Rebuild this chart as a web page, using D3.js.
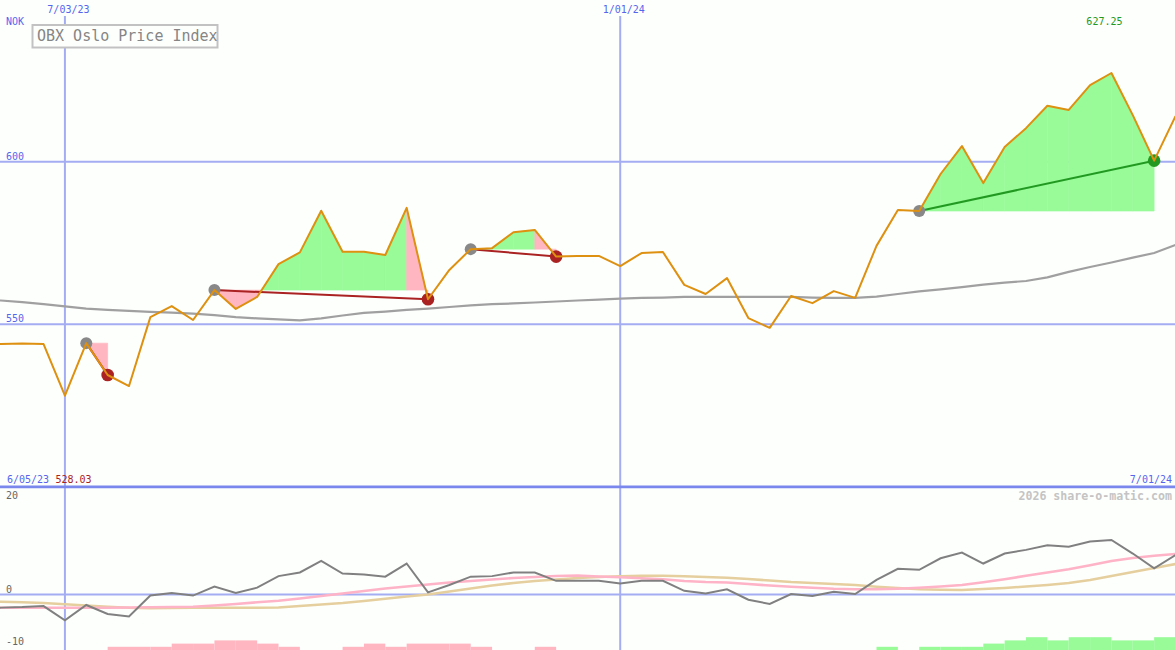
<!DOCTYPE html>
<html>
<head>
<meta charset="utf-8">
<script src="https://cdn.jsdelivr.net/npm/d3@7"></script>
<style>
  html, body { margin: 0; padding: 0; background: #fdfffd; }
  svg { display: block; }
  text { font-family: "DejaVu Sans Mono", "Liberation Mono", monospace; }
</style>
</head>
<body>
<svg id="chart" width="1175" height="650"></svg>
<script>
// ---------------- DATA ----------------
const dates = [
  "2023-06-05","2023-06-12","2023-06-19","2023-06-26","2023-07-03","2023-07-10","2023-07-17","2023-07-24",
  "2023-07-31","2023-08-07","2023-08-14","2023-08-21","2023-08-28","2023-09-04","2023-09-11","2023-09-18",
  "2023-09-25","2023-10-02","2023-10-09","2023-10-16","2023-10-23","2023-10-30","2023-11-06","2023-11-13",
  "2023-11-20","2023-11-27","2023-12-04","2023-12-11","2023-12-18","2023-12-25","2024-01-01","2024-01-08",
  "2024-01-15","2024-01-22","2024-01-29","2024-02-05","2024-02-12","2024-02-19","2024-02-26","2024-03-04",
  "2024-03-11","2024-03-18","2024-03-25","2024-04-01","2024-04-08","2024-04-15","2024-04-22","2024-04-29",
  "2024-05-06","2024-05-13","2024-05-20","2024-05-27","2024-06-03","2024-06-10","2024-06-17","2024-06-24",
  "2024-07-01"
];
const price = [
  543.9, 543.9, 544.1, 543.9, 528.03, 544.2, 534.4, 531.0,
  552.2, 555.6, 551.3, 560.5, 554.7, 558.4, 568.5, 572.1,
  584.9, 572.3, 572.3, 571.3, 585.8, 557.7, 566.7, 573.1,
  573.4, 578.3, 579.0, 570.8, 571.0, 571.0, 567.9, 571.9,
  572.2, 562.1, 559.3, 564.2, 551.9, 548.9, 558.7, 556.5,
  560.2, 558.1, 574.1, 585.1, 584.8, 596.2, 604.8, 593.4,
  604.5, 610.3, 617.2, 615.9, 623.5, 627.25, 614.3, 600.3,
  614.0
];
const movingAvg = [
  557.6, 557.3, 556.8, 556.2, 555.5, 554.8, 554.4, 554.1,
  553.8, 553.6, 553.3, 552.8, 552.2, 551.8, 551.5, 551.2,
  551.8, 552.7, 553.5, 553.9, 554.4, 554.8, 555.3, 555.8,
  556.2, 556.4, 556.7, 557.0, 557.3, 557.6, 557.9, 558.1,
  558.2, 558.4, 558.4, 558.4, 558.4, 558.4, 558.4, 558.2,
  558.1, 558.1, 558.5, 559.3, 560.1, 560.7, 561.4, 562.2,
  562.8, 563.3, 564.4, 566.1, 567.6, 569.0, 570.5, 571.9,
  574.4
];
const oscMain = [
  -2.6, -2.5, -2.4, -2.2, -4.9, -2.0, -3.7, -4.2,
  -0.2, 0.3, -0.2, 1.5, 0.3, 1.3, 3.5, 4.2,
  6.4, 4.0, 3.8, 3.4, 5.9, 0.4, 1.8, 3.4,
  3.5, 4.2, 4.2, 2.6, 2.6, 2.6, 2.1, 2.6,
  2.6, 0.7, 0.2, 1.0, -1.0, -1.8, 0.1, -0.3,
  0.5, 0.1, 2.8, 4.9, 4.7, 6.9, 8.0, 5.9,
  7.8, 8.5, 9.4, 9.1, 10.1, 10.4, 7.8, 5.0,
  7.5
];
const oscPink = [
  -2.51, -2.51, -2.51, -2.51, -2.51, -2.51, -2.51, -2.48,
  -2.44, -2.38, -2.32, -2.10, -1.81, -1.49, -1.18, -0.76,
  -0.29, 0.19, 0.67, 1.14, 1.52, 1.90, 2.29, 2.57,
  2.86, 3.14, 3.33, 3.52, 3.62, 3.43, 3.28, 3.09,
  2.91, 2.57, 2.38, 2.29, 2.00, 1.70, 1.47, 1.28,
  1.09, 0.99, 1.01, 1.10, 1.28, 1.52, 1.81, 2.32,
  2.90, 3.56, 4.19, 4.82, 5.56, 6.38, 6.95, 7.39,
  7.71
];
const oscTan = [
  -1.33, -1.37, -1.49, -1.62, -1.87, -2.10, -2.32, -2.53,
  -2.63, -2.57, -2.51, -2.51, -2.51, -2.51, -2.48, -2.19,
  -1.90, -1.62, -1.24, -0.82, -0.38, 0.00, 0.57, 1.14,
  1.71, 2.19, 2.57, 2.86, 3.14, 3.33, 3.49, 3.56,
  3.58, 3.49, 3.33, 3.18, 2.95, 2.67, 2.38, 2.19,
  2.00, 1.81, 1.49, 1.24, 0.99, 0.90, 0.86, 1.05,
  1.24, 1.52, 1.81, 2.19, 2.76, 3.52, 4.29, 5.05,
  5.81
];
// signed position strength bars (negative = pink, positive = green)
const positionBars = [
  0, 0, 0, 0, 0, 0, -1, -1,
  -1, -2, -2, -3, -3, -2, -1, 0,
  0, -1, -2, -1, -2, -2, -2, -1,
  0, 0, -1, 0, 0, 0, 0, 0,
  0, 0, 0, 0, 0, 0, 0, 0,
  0, 0, 1, 0, 1, 1, 1, 2,
  3, 4, 3, 4, 4, 3, 3, 4,
  0
];
const tradeEntries = ["2023-07-10", "2023-08-21", "2023-11-13", "2024-04-08"];
const tradeExits   = ["2023-07-17", "2023-10-30", "2023-12-11", "2024-06-24"];
const priceTicks = [600, 550];
const oscTicks = [20, 0, -10];
const dateTicks = ["2023-07-03", "2024-01-01"];
const dateTickLabels = ["7/03/23", "1/01/24"];
const firstLabel = "6/05/23";
const lastLabel = "7/01/24";
const title = "OBX Oslo Price Index";
const currency = "NOK";
const credit = "2026 share-o-matic.com";

// ---------------- CHART ----------------
(function () {
const W = 1175, H = 650;
const parse = d3.utcParse("%Y-%m-%d");
const D = dates.map(parse);
const svg = d3.select("#chart");

const x = d3.scaleUtc().domain([D[0], D[D.length - 1]]).range([-20.5, 1175.5]);
const y = d3.scaleLinear().domain([500, 650]).range([486.9, -1]);
const y2 = d3.scaleLinear().domain([-10, 20]).range([647, 489.5]);
const yb = d3.scaleLinear().domain([0, 4]).range([650, 637.2]);

const C = {
  bg: "#fdfffd", grid: "#a4adf2", sep: "#7a88ee", tick: "#5566ee",
  price: "#de9010", ma: "#a0a0a0", green: "#98fb98", pink: "#ffb6c1",
  loss: "#aa2222", win: "#229a22", entry: "#888888",
  osc: "#808080", oscPink: "#ffb3c6", oscTan: "#e6cf9e"
};

svg.append("rect").attr("width", W).attr("height", H).attr("fill", C.bg);

const defs = svg.append("defs");
defs.append("clipPath").attr("id", "clipTop").append("rect")
  .attr("x", 0).attr("y", 0).attr("width", W).attr("height", 486);
defs.append("clipPath").attr("id", "clipBot").append("rect")
  .attr("x", 0).attr("y", 488.5).attr("width", W).attr("height", H - 488.5);

// horizontal grid (price)
svg.append("g").selectAll("line").data(priceTicks).join("line")
  .attr("x1", 0).attr("x2", W)
  .attr("y1", d => y(d)).attr("y2", d => y(d))
  .attr("stroke", C.grid).attr("stroke-width", 2);

// zero line in lower panel
svg.append("line").attr("x1", 0).attr("x2", W)
  .attr("y1", y2(0)).attr("y2", y2(0))
  .attr("stroke", C.grid).attr("stroke-width", 2.2);

// vertical grid
svg.append("g").selectAll("line").data(dateTicks).join("line")
  .attr("x1", d => x(parse(d))).attr("x2", d => x(parse(d)))
  .attr("y1", 16).attr("y2", H)
  .attr("stroke", C.grid).attr("stroke-width", 2);

// separator (500 level)
svg.append("line").attr("x1", 0).attr("x2", W)
  .attr("y1", y(500)).attr("y2", y(500))
  .attr("stroke", C.sep).attr("stroke-width", 2.8);

// ---------- top panel ----------
const gTop = svg.append("g").attr("clip-path", "url(#clipTop)");

gTop.append("path")
  .attr("d", d3.line().x((d, i) => x(D[i])).y(d => y(d))(movingAvg))
  .attr("fill", "none").attr("stroke", C.ma).attr("stroke-width", 2.2);

const poly = d3.line().x(p => x(p[0])).y(p => y(p[1]));
const fills = [];
tradeEntries.forEach((ed, t) => {
  const a = dates.indexOf(ed), b = dates.indexOf(tradeExits[t]);
  const E = price[a];
  const win = price[b] >= E;
  for (let k = a; k < b; k++) {
    const p0 = price[k], p1 = price[k + 1], x0 = D[k], x1 = D[k + 1];
    if (k === b - 1) {
      fills.push({ pts: [[x0, E], [x0, p0], [x1, p1], [x1, E]], c: win ? C.green : C.pink });
    } else if ((p0 - E) * (p1 - E) >= 0) {
      fills.push({ pts: [[x0, E], [x0, p0], [x1, p1], [x1, E]], c: (p0 + p1 - 2 * E) >= 0 ? C.green : C.pink });
    } else {
      const tt = (E - p0) / (p1 - p0);
      const xc = new Date(+x0 + tt * (x1 - x0));
      fills.push({ pts: [[x0, E], [x0, p0], [xc, E]], c: p0 > E ? C.green : C.pink });
      fills.push({ pts: [[xc, E], [x1, p1], [x1, E]], c: p1 > E ? C.green : C.pink });
    }
  }
});
gTop.append("g").selectAll("path").data(fills).join("path")
  .attr("d", f => poly(f.pts) + "Z")
  .attr("fill", f => f.c).attr("stroke", f => f.c).attr("stroke-width", 0.6);

const trades = tradeEntries.map((ed, t) => {
  const a = dates.indexOf(ed), b = dates.indexOf(tradeExits[t]);
  return { a, b, win: price[b] >= price[a] };
});
gTop.append("g").selectAll("line").data(trades).join("line")
  .attr("x1", d => x(D[d.a])).attr("y1", d => y(price[d.a]))
  .attr("x2", d => x(D[d.b])).attr("y2", d => y(price[d.b]))
  .attr("stroke", d => d.win ? C.win : C.loss).attr("stroke-width", 2);

gTop.append("g").selectAll("circle").data(trades).join("circle")
  .attr("cx", d => x(D[d.a])).attr("cy", d => y(price[d.a])).attr("r", 6)
  .attr("fill", C.entry);
gTop.append("g").selectAll("circle").data(trades).join("circle")
  .attr("cx", d => x(D[d.b])).attr("cy", d => y(price[d.b])).attr("r", 6.3)
  .attr("fill", d => d.win ? C.win : C.loss);

gTop.append("path")
  .attr("d", d3.line().x((d, i) => x(D[i])).y(d => y(d))(price))
  .attr("fill", "none").attr("stroke", C.price).attr("stroke-width", 2)
  .attr("stroke-linejoin", "round");

// ---------- bottom panel ----------
const gBot = svg.append("g").attr("clip-path", "url(#clipBot)");
const barData = positionBars.map((v, i) => ({ v, i })).filter(d => d.v !== 0 && d.i < D.length - 1);
gBot.append("g").selectAll("rect").data(barData).join("rect")
  .attr("x", d => x(D[d.i])).attr("width", d => x(D[d.i + 1]) - x(D[d.i]))
  .attr("y", d => yb(Math.abs(d.v))).attr("height", d => yb(0) - yb(Math.abs(d.v)))
  .attr("fill", d => d.v > 0 ? C.green : C.pink);

const oscLine = d3.line().x((d, i) => x(D[i])).y(d => y2(d));
gBot.append("path").attr("d", oscLine(oscTan)).attr("fill", "none")
  .attr("stroke", C.oscTan).attr("stroke-width", 2.6);
gBot.append("path").attr("d", oscLine(oscPink)).attr("fill", "none")
  .attr("stroke", C.oscPink).attr("stroke-width", 2.6);
gBot.append("path").attr("d", oscLine(oscMain)).attr("fill", "none")
  .attr("stroke", C.osc).attr("stroke-width", 2);

// ---------- labels ----------
const lab = svg.append("g").attr("font-size", 10);
lab.append("text").attr("x", 6).attr("y", 25).attr("fill", C.tick).text(currency);
lab.selectAll(".pt").data(priceTicks).join("text").attr("class", "pt")
  .attr("x", 6).attr("y", d => y(d) - 2).attr("fill", C.tick).text(d => d);
lab.selectAll(".dt").data(dateTicks).join("text").attr("class", "dt")
  .attr("x", d => x(parse(d)) + 3.5).attr("y", 13).attr("text-anchor", "middle")
  .attr("fill", C.tick).text((d, i) => dateTickLabels[i]);
lab.append("text").attr("x", 7).attr("y", 483.3).attr("fill", C.tick).text(firstLabel);
lab.append("text").attr("x", 1172).attr("y", 483).attr("text-anchor", "end")
  .attr("fill", C.tick).text(lastLabel);

const minI = d3.minIndex(price), maxI = d3.maxIndex(price);
lab.append("text").attr("x", 55.5).attr("y", 483.3).attr("fill", C.loss)
  .text(price[minI].toFixed(2));
lab.append("text").attr("x", x(D[maxI]) - 7).attr("y", 25).attr("text-anchor", "middle")
  .attr("fill", C.win).text(price[maxI].toFixed(2));

lab.selectAll(".ot").data(oscTicks).join("text").attr("class", "ot")
  .attr("x", 6).attr("y", d => d === 20 ? 499 : y2(d) - 2)
  .attr("fill", "#666").text(d => d);

svg.append("text").attr("x", 1172).attr("y", 500).attr("text-anchor", "end")
  .attr("font-size", 11.6).attr("font-weight", "bold").attr("fill", "#c4c4c4").text(credit);

svg.append("rect").attr("x", 32.5).attr("y", 25).attr("width", 185).attr("height", 22.5)
  .attr("fill", C.bg).attr("stroke", "#c2c2c2").attr("stroke-width", 2);
svg.append("text").attr("x", 37).attr("y", 41).attr("font-size", 15)
  .attr("fill", "#858585").text(title);
})();
</script>
</body>
</html>
